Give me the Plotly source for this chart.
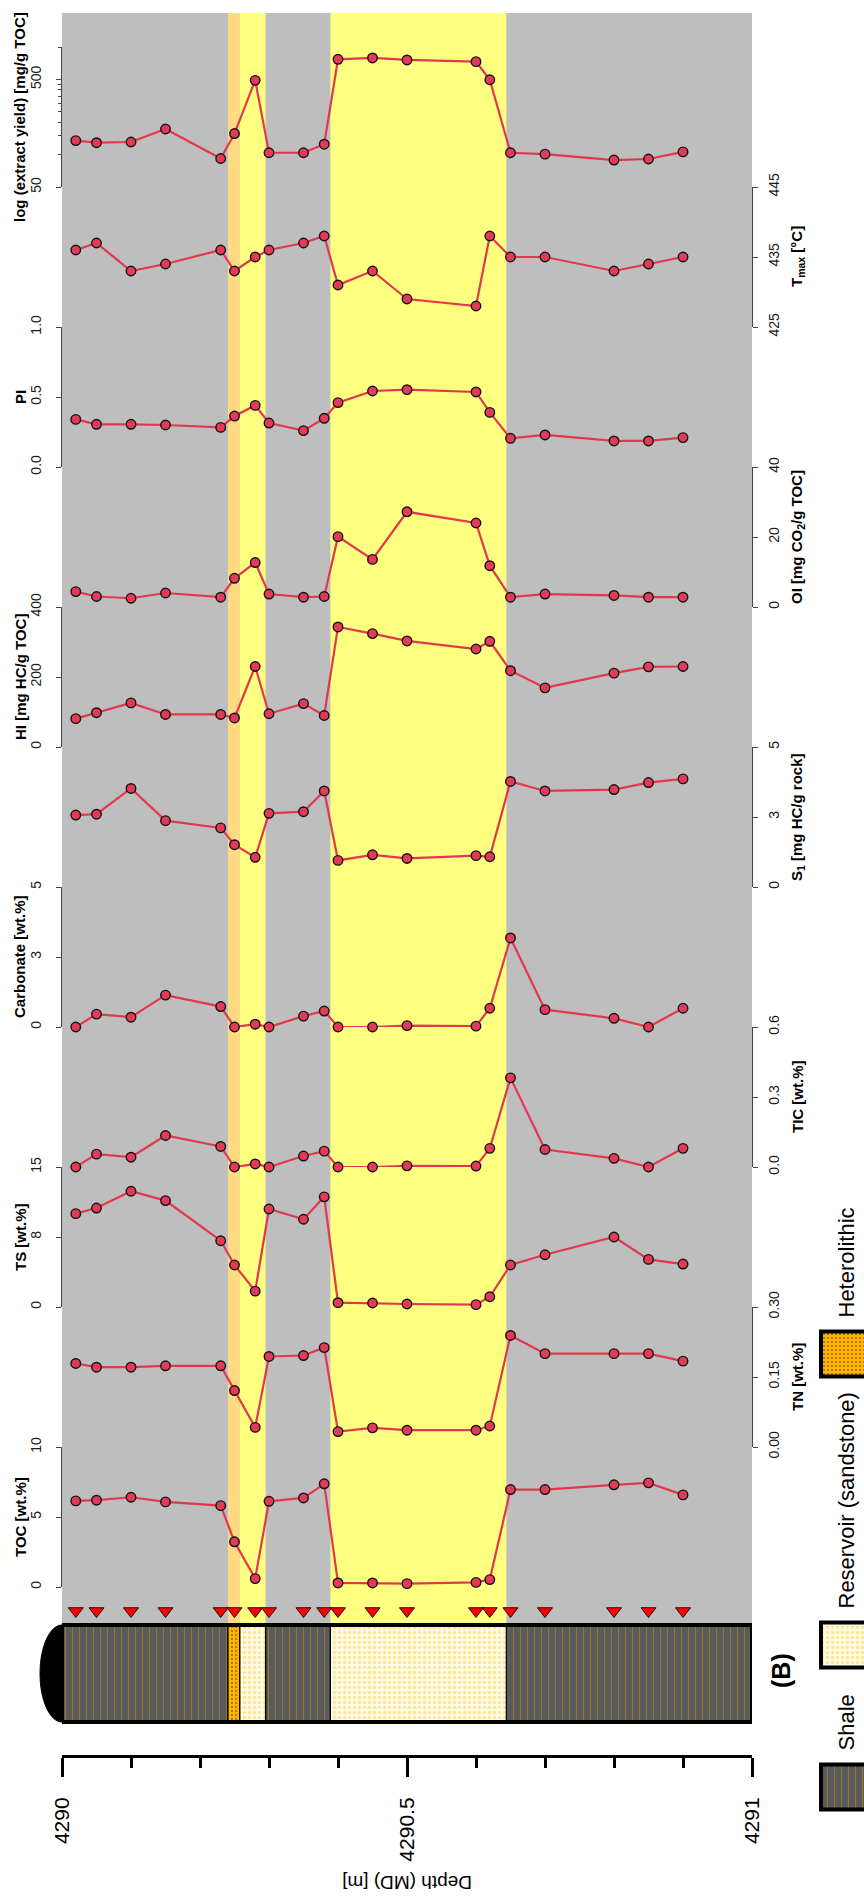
import math
import plotly.graph_objects as go

W, H = 864, 1901
FONT = "Liberation Sans, Arial, Helvetica, sans-serif"

# ---------------- data ----------------
depth = [4290.02, 4290.05, 4290.10, 4290.15, 4290.23, 4290.25, 4290.28, 4290.30,
         4290.35, 4290.38, 4290.40, 4290.45, 4290.50, 4290.60, 4290.62, 4290.65,
         4290.70, 4290.80, 4290.85, 4290.90]

toc = [6.15, 6.20, 6.41, 6.08, 5.81, 3.23, 0.60, 6.12, 6.36, 7.37,
       0.29, 0.29, 0.24, 0.33, 0.53, 6.96, 6.96, 7.30, 7.44, 6.58]
tn = [0.179, 0.171, 0.171, 0.174, 0.174, 0.121, 0.042, 0.194, 0.196, 0.213,
      0.033, 0.041, 0.036, 0.036, 0.045, 0.239, 0.200, 0.200, 0.200, 0.184]
ts = [10.0, 10.6, 12.4, 11.4, 7.1, 4.5, 1.7, 10.5, 9.4, 11.8,
      0.46, 0.43, 0.32, 0.25, 1.1, 4.5, 5.6, 7.5, 5.1, 4.6]
tic = [0.0, 0.055, 0.042, 0.135, 0.088, 0.0, 0.013, 0.0, 0.047, 0.068,
       0.0, 0.0, 0.005, 0.004, 0.080, 0.382, 0.075, 0.037, 0.0, 0.080]
carbonate = [0.0, 0.46, 0.35, 1.14, 0.73, 0.0, 0.10, 0.0, 0.39, 0.57,
             0.0, 0.0, 0.05, 0.03, 0.67, 3.18, 0.62, 0.31, 0.0, 0.67]
s1 = [2.57, 2.60, 3.52, 2.37, 2.11, 1.51, 1.06, 2.63, 2.69, 3.43,
      0.95, 1.15, 1.02, 1.12, 1.08, 3.77, 3.43, 3.48, 3.73, 3.86]
hi = [81, 98, 126, 93, 93, 83, 230, 95, 124, 90,
      343, 324, 303, 280, 302, 218, 169, 211, 229, 230]
oi = [4.4, 3.0, 2.5, 4.0, 2.8, 8.2, 12.7, 3.7, 2.8, 3.0,
      20.1, 13.6, 27.2, 24.0, 11.8, 2.8, 3.7, 3.3, 2.8, 2.8]
pi = [0.340, 0.305, 0.305, 0.300, 0.283, 0.364, 0.440, 0.314, 0.260, 0.348,
      0.460, 0.543, 0.552, 0.536, 0.390, 0.205, 0.229, 0.186, 0.186, 0.210]
tmax = [436, 437, 433, 434, 436, 433, 435, 436, 437, 438,
        431, 433, 429, 428, 438, 435, 435, 433, 434, 435]
extract_yield = [135, 129, 131, 173, 92, 157, 490, 104, 104, 125,
                 769, 791, 758, 731, 496, 104, 101, 89, 91, 106]

# lithology intervals (top / base depth in m)
litho_top = [4290.0, 4290.2405, 4290.2575, 4290.295, 4290.389, 4290.644]
litho_base = [4290.2405, 4290.2575, 4290.295, 4290.389, 4290.644, 4291.0]
litho_type = ["Shale", "Heterolithic", "Reservoir (sandstone)", "Shale",
              "Reservoir (sandstone)", "Shale"]
legend_order = ["Shale", "Reservoir (sandstone)", "Heterolithic"]

# depth-axis labels
depth_major = [4290.0, 4290.5, 4291.0]
depth_major_text = ["4290", "4290.5", "4291"]
depth_minor = [4290.1, 4290.2, 4290.3, 4290.4, 4290.6, 4290.7, 4290.8, 4290.9]

# tracks, bottom to top: title, values, axis side, range, tick values, tick labels
tracks = [
    ("TOC [wt.%]", toc, "left", [0, 10], [0, 5, 10], ["0", "5", "10"]),
    ("TN [wt.%]", tn, "right", [0, 0.30], [0, 0.15, 0.30], ["0.00", "0.15", "0.30"]),
    ("TS [wt.%]", ts, "left", [0, 15], [0, 7.5, 15], ["0", "8", "15"]),
    ("TIC [wt.%]", tic, "right", [0, 0.6], [0, 0.3, 0.6], ["0.0", "0.3", "0.6"]),
    ("Carbonate [wt.%]", carbonate, "left", [0, 5], [0, 2.5, 5], ["0", "3", "5"]),
    ("S<sub>1</sub> [mg HC/g rock]", s1, "right", [0, 5], [0, 2.5, 5], ["0", "3", "5"]),
    ("HI [mg HC/g TOC]", hi, "left", [0, 400], [0, 200, 400], ["0", "200", "400"]),
    ("OI [mg CO<sub>2</sub>/g TOC]", oi, "right", [0, 40], [0, 20, 40], ["0", "20", "40"]),
    ("PI", pi, "left", [0, 1], [0, 0.5, 1], ["0.0", "0.5", "1.0"]),
    ("T<sub>max</sub> [°C]", tmax, "right", [425, 445], [425, 435, 445], ["425", "435", "445"]),
    ("log (extract yield) [mg/g TOC]", extract_yield, "left", [50, 1000], [50, 500], ["50", "500"]),
]
extract_minor = [100, 150, 200, 250, 300, 350, 400, 450, 1000]

# ---------------- styling ----------------
BG_GREY = "#BEBEBE"
BAND_COLOR = {"Heterolithic": "#FFDA80", "Reservoir (sandstone)": "#FFFF80"}
LINE_RED = "#E2384F"
PT_RED = "#E23B58"
LITHO_STYLE = {
    "Shale": dict(bg="#5A5A5A", fg="#C89A12", shape="|", size=7, solidity=0.14),
    "Reservoir (sandstone)": dict(bg="#FFFBE4", fg="#FFD04A", shape=".", size=5, solidity=0.35),
    "Heterolithic": dict(bg="#FFB300", fg="#151515", shape=".", size=4, solidity=0.18),
}

def fx(p):  # pixel column -> paper x
    return p / W

def fy(p):  # pixel row -> paper y
    return 1 - p / H

X0, X1 = 62, 752          # depth axis extent
TRACK_BOTTOM, TRACK_H = 1587, 140
GREY_TOP, COL_TOP, COL_BOT = 13, 1625, 1722
AXIS_Y = 1756

fig = go.Figure()
layout = dict(
    template="none",
    width=W, height=H, autosize=False,
    margin=dict(l=0, r=0, t=0, b=0, pad=0),
    paper_bgcolor="white", plot_bgcolor="rgba(0,0,0,0)",
    showlegend=False, barmode="overlay",
    font=dict(family=FONT, color="#111"),
)

layout["xaxis"] = dict(
    domain=[fx(X0), fx(X1)], range=[4290, 4291], anchor="free", position=fy(AXIS_Y),
    automargin=False, showgrid=False, zeroline=False, showline=True,
    linecolor="black", linewidth=3,
    ticks="outside", ticklen=19, tickwidth=3, tickcolor="black",
    tickvals=depth_major, ticktext=depth_major_text, tickangle=-90,
    tickfont=dict(family=FONT, size=21, color="black"), ticklabelstandoff=12,
    minor=dict(tickvals=depth_minor, ticks="outside", ticklen=10, tickwidth=3,
               tickcolor="black", showgrid=False),
)

annotations = []
shapes = []

for k, (title, vals, side, rng, tv, tt) in enumerate(tracks):
    name = "yaxis" if k == 0 else f"yaxis{k + 1}"
    ref = "y" if k == 0 else f"y{k + 1}"
    bot = TRACK_BOTTOM - TRACK_H * k
    top = bot - TRACK_H
    is_log = title.startswith("log")
    ax = dict(
        domain=[fy(bot), fy(top)], anchor="x", side=side, automargin=False,
        showgrid=False, zeroline=False, showline=True, linecolor="#444", linewidth=1,
        ticks="outside", ticklen=5, tickwidth=1, tickcolor="#444",
        tickvals=tv, ticktext=tt, tickangle=-90,
        tickfont=dict(family=FONT, size=14, color="#1a1a1a"),
        ticklabelstandoff=9 if side == "left" else 4,
    )
    if is_log:
        ax.update(type="log", range=[math.log10(rng[0]), math.log10(rng[1])],
                  minor=dict(tickvals=extract_minor, ticks="outside", ticklen=3,
                             tickcolor="#444", showgrid=False))
    else:
        ax.update(range=rng)
    layout[name] = ax

    fig.add_trace(go.Scatter(
        x=depth, y=vals, xaxis="x", yaxis=ref, mode="lines+markers",
        line=dict(color=LINE_RED, width=2.2),
        marker=dict(size=9.5, color=PT_RED, line=dict(color="#111", width=1.4)),
        cliponaxis=False, hoverinfo="skip",
    ))

    annotations.append(dict(
        text=f"<b>{title}</b>", xref="paper", yref="paper",
        x=fx(20 if side == "left" else 797), y=fy((bot + top) / 2),
        textangle=-90, showarrow=False, xanchor="center", yanchor="middle",
        font=dict(family=FONT, size=15, color="black"),
    ))

# sample positions (triangles)
layout["yaxis12"] = dict(domain=[fy(1623), fy(1599)], range=[-1, 1], anchor="x",
                         visible=False, fixedrange=True, automargin=False)
fig.add_trace(go.Scatter(
    x=depth, y=[0] * len(depth), xaxis="x", yaxis="y12", mode="markers",
    marker=dict(symbol="triangle-down", size=13, color="#FF0000",
                line=dict(color="#111", width=1)),
    cliponaxis=False, hoverinfo="skip",
))

# lithology column
layout["yaxis13"] = dict(domain=[fy(COL_BOT), fy(COL_TOP)], range=[-0.5, 0.5], anchor="x",
                         visible=False, fixedrange=True, automargin=False)
for lt in legend_order:
    st = LITHO_STYLE[lt]
    idx = [i for i, t in enumerate(litho_type) if t == lt]
    fig.add_trace(go.Bar(
        x=[litho_base[i] - litho_top[i] for i in idx],
        base=[litho_top[i] for i in idx],
        y=[0] * len(idx), width=1, orientation="h", xaxis="x", yaxis="y13",
        marker=dict(color=st["bg"], line=dict(color="black", width=1.2),
                    pattern=dict(shape=st["shape"], fgcolor=st["fg"], bgcolor=st["bg"],
                                 size=st["size"], solidity=st["solidity"], fillmode="overlay")),
        hoverinfo="skip",
    ))

# legend swatches
LEG_X0 = 810
layout["xaxis2"] = dict(domain=[fx(LEG_X0), 1.0], range=[0, W - LEG_X0], anchor="y14",
                        visible=False, fixedrange=True, automargin=False)
layout["yaxis14"] = dict(domain=[fy(1840), fy(1300)], range=[1840, 1300], anchor="x2",
                         visible=False, fixedrange=True, automargin=False)
leg_centre = {"Shale": 1787, "Reservoir (sandstone)": 1645, "Heterolithic": 1354}
for lt in legend_order:
    st = LITHO_STYLE[lt]
    fig.add_trace(go.Bar(
        x=[80], base=[821 - LEG_X0], y=[leg_centre[lt]], width=45, orientation="h",
        xaxis="x2", yaxis="y14",
        marker=dict(color=st["bg"], line=dict(color="black", width=4),
                    pattern=dict(shape=st["shape"], fgcolor=st["fg"], bgcolor=st["bg"],
                                 size=st["size"], solidity=st["solidity"], fillmode="overlay")),
        hoverinfo="skip",
    ))
    annotations.append(dict(
        text=lt, xref="paper", yref="paper", x=fx(846), y=fy(leg_centre[lt] - 22.5 - 12),
        textangle=-90, showarrow=False, xanchor="center", yanchor="bottom",
        font=dict(family=FONT, size=22, color="black"),
    ))

# background panel and lithology bands behind the curves
shapes.append(dict(type="rect", xref="x", yref="paper", x0=4290, x1=4291,
                   y0=fy(COL_TOP), y1=fy(GREY_TOP), fillcolor=BG_GREY,
                   line=dict(width=0), layer="below"))
for t, b, lt in zip(litho_top, litho_base, litho_type):
    if lt in BAND_COLOR:
        shapes.append(dict(type="rect", xref="x", yref="paper", x0=t, x1=b,
                           y0=fy(COL_TOP), y1=fy(GREY_TOP), fillcolor=BAND_COLOR[lt],
                           line=dict(width=0), layer="below"))

# column frame and rounded core end
shapes.append(dict(type="rect", xref="x", yref="paper", x0=4290, x1=4291,
                   y0=fy(COL_BOT), y1=fy(COL_TOP), line=dict(color="black", width=4),
                   fillcolor="rgba(0,0,0,0)", layer="above"))
k_b = 0.5523
rx, ry = 22, (COL_BOT - COL_TOP) / 2
cy = (COL_TOP + COL_BOT) / 2
xe = X0 - rx
pts = [
    (X0, COL_TOP), (X0 - rx * k_b, COL_TOP), (xe, cy - ry * k_b), (xe, cy),
    (xe, cy + ry * k_b), (X0 - rx * k_b, COL_BOT), (X0, COL_BOT),
]
path = "M {:.5f},{:.5f} C {:.5f},{:.5f} {:.5f},{:.5f} {:.5f},{:.5f} C {:.5f},{:.5f} {:.5f},{:.5f} {:.5f},{:.5f} Z".format(
    *[v for p in pts for v in (fx(p[0]), fy(p[1]))])
shapes.append(dict(type="path", xref="paper", yref="paper", path=path,
                   fillcolor="black", line=dict(color="black", width=1), layer="above"))

# text labels
annotations.append(dict(
    text="Depth (MD) [m]", xref="paper", yref="paper", x=fx((X0 + X1) / 2), y=fy(1883),
    textangle=180, showarrow=False, xanchor="center", yanchor="middle",
    font=dict(family=FONT, size=19, color="black"),
))
annotations.append(dict(
    text="<b>(B)</b>", xref="paper", yref="paper", x=fx(781), y=fy(1671),
    textangle=-90, showarrow=False, xanchor="center", yanchor="middle",
    font=dict(family=FONT, size=25, color="black"),
))

layout["annotations"] = annotations
layout["shapes"] = shapes
fig.update_layout(**layout)
fig.write_html("out.html")
